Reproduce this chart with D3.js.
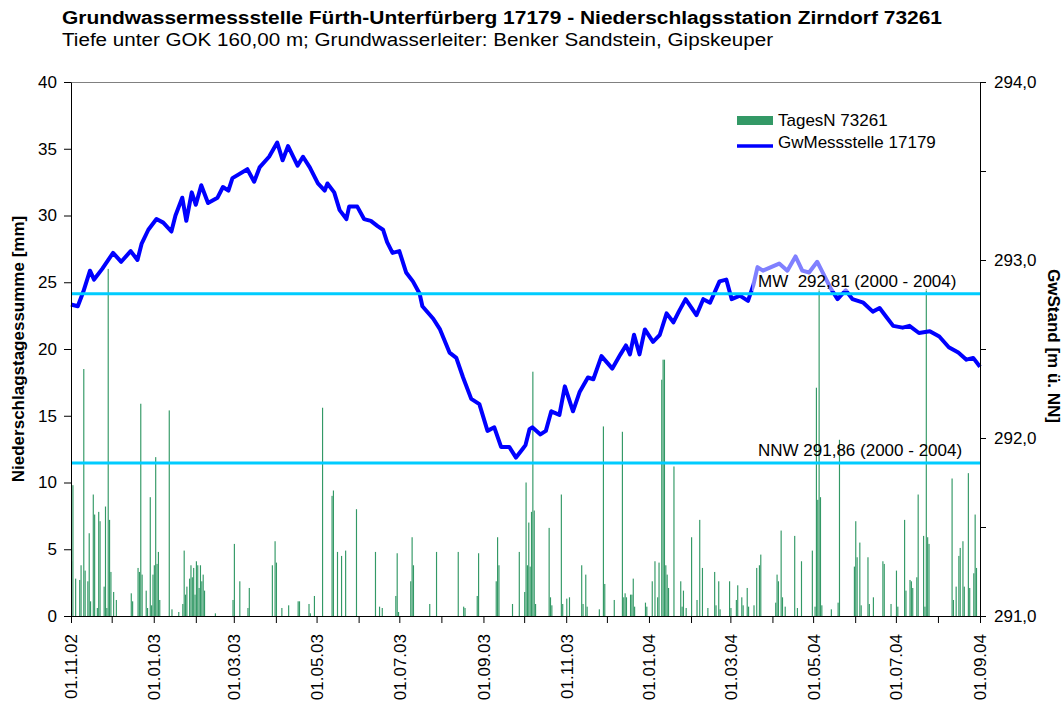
<!DOCTYPE html>
<html>
<head>
<meta charset="utf-8">
<script src="https://cdn.jsdelivr.net/npm/d3@7"></script>
<style>
  body { margin: 0; background: #fff; }
  text { font-family: "Liberation Sans", Arial, sans-serif; fill: #000; }
</style>
</head>
<body>
<svg id="chart"></svg>
<script>
// Setting chart size
const w = 1063;
const h = 702;

// ---- data ----
const titleText = "Grundwassermessstelle Fürth-Unterfürberg 17179 - Niederschlagsstation Zirndorf 73261";
const subtitleText = "Tiefe unter GOK 160,00 m; Grundwasserleiter: Benker Sandstein, Gipskeuper";
const seriesNames = ["TagesN 73261", "GwMessstelle 17179"];
const startDate = new Date(2002, 10, 1);   // 01.11.02
const endDate = new Date(2004, 8, 1);      // 01.09.04

// daily precipitation: days after 01.11.02 and mm
const rainDays = [0,1,3,6,7,9,10,12,13,14,16,17,19,20,21,24,25,26,27,28,29,31,33,44,45,49,50,51,52,55,56,58,59,60,61,62,63,64,65,72,74,79,82,83,84,85,87,88,89,90,91,92,93,94,95,96,97,98,106,119,120,124,130,131,148,150,151,155,160,167,168,175,176,179,185,192,193,196,199,202,210,224,227,229,239,240,241,250,251,252,264,269,285,289,290,299,300,313,314,315,325,330,334,335,336,337,338,339,340,341,342,352,353,354,361,362,365,367,376,377,379,380,389,392,393,400,406,407,408,409,412,413,414,415,423,424,428,430,432,433,435,436,437,438,439,440,444,449,450,451,453,457,461,463,465,469,474,475,477,478,485,486,490,491,494,495,498,499,503,505,507,508,519,520,521,523,524,526,533,535,538,546,548,549,550,551,552,553,560,565,566,577,578,579,581,582,587,588,591,598,599,604,608,609,614,615,618,619,620,623,624,628,629,630,631,632,649,650,652,654,655,657,658,661,662,665,666,667];
const rainMm = [4.1,9.8,2.8,2.7,3.8,18.5,3.4,2.6,6.2,1.1,9.1,7.6,0.6,7.8,7.1,2.2,8.2,0.6,26.0,7.2,3.3,1.8,1.2,1.7,1.1,3.6,3.3,15.9,3.1,1.9,0.6,8.9,0.8,3.1,3.8,11.9,3.9,4.8,1.2,15.4,0.5,0.3,0.9,4.9,1.6,2.2,2.8,3.8,2.9,3.6,1.6,4.1,3.8,2.1,3.8,2.6,3.1,1.9,0.2,1.2,5.4,2.6,0.6,2.1,3.8,5.6,4.0,0.6,0.8,1.1,1.1,0.9,0.2,1.5,15.6,9.0,9.4,4.8,4.5,4.9,8.0,4.8,0.7,0.6,1.5,4.7,0.3,2.6,5.9,3.8,0.9,4.8,4.8,0.7,0.6,1.5,4.7,2.6,5.9,3.8,0.9,4.8,1.8,10.0,3.8,7.0,3.7,7.8,18.3,7.9,0.9,6.6,1.4,0.8,9.1,0.9,1.3,1.4,3.8,0.9,3.1,0.7,0.5,14.2,2.4,1.2,13.8,1.4,1.7,1.4,1.6,1.6,2.8,0.7,1.0,0.7,2.6,4.1,1.4,4.0,17.7,19.2,19.2,3.8,3.1,2.1,11.2,2.6,0.7,1.9,0.6,5.9,1.2,7.2,3.6,0.6,3.3,0.8,2.6,0.5,2.6,0.6,1.2,2.3,1.4,0.8,2.1,0.7,0.8,3.6,3.8,4.6,1.0,3.1,2.6,6.4,1.4,0.7,6.0,0.6,4.1,4.9,0.7,17.1,8.7,24.5,8.9,0.8,0.5,1.0,13.2,3.7,7.1,4.4,5.5,0.8,4.4,0.9,1.4,4.1,3.9,0.9,3.4,0.7,7.2,1.9,2.7,2.6,2.1,2.9,9.1,6.0,0.7,24.5,5.9,5.4,10.3,1.2,2.2,4.5,5.1,5.6,2.2,10.7,2.1,3.2,7.6,3.6];

// groundwater level: days after 01.11.02 and m ü. NN
const gwDays = [0,5,9,14,17,23,31,37,44,49,52,57,63,68,74,77,82,85,89,92,96,101,108,112,116,119,130,135,139,146,152,156,160,167,171,176,182,187,189,194,198,203,205,211,216,221,226,230,233,237,242,247,252,257,259,267,272,279,284,289,295,301,307,312,317,323,328,333,335,338,340,346,350,354,360,364,370,375,381,385,391,399,405,409,412,415,419,423,429,434,439,444,448,453,461,466,471,478,483,487,493,499,503,506,510,516,522,528,534,539,544,550,554,560,565,571,576,584,591,596,601,606,613,618,625,633,640,647,654,660,665,670];
const gwLevel = [292.75,292.74,292.82,292.94,292.89,292.95,293.04,292.99,293.05,293.00,293.09,293.17,293.23,293.21,293.16,293.25,293.35,293.22,293.38,293.31,293.42,293.32,293.35,293.41,293.39,293.46,293.51,293.44,293.52,293.58,293.66,293.56,293.64,293.53,293.58,293.52,293.43,293.39,293.43,293.38,293.28,293.23,293.30,293.30,293.23,293.22,293.19,293.17,293.10,293.04,293.05,292.93,292.88,292.81,292.74,292.67,292.61,292.48,292.45,292.34,292.22,292.19,292.04,292.06,291.95,291.95,291.89,291.94,291.96,292.05,292.06,292.02,292.04,292.15,292.13,292.29,292.15,292.26,292.34,292.33,292.46,292.39,292.47,292.52,292.47,292.58,292.47,292.61,292.54,292.58,292.70,292.65,292.71,292.78,292.69,292.78,292.76,292.88,292.89,292.78,292.80,292.77,292.86,292.96,292.94,292.96,292.98,292.94,293.02,292.94,292.93,292.99,292.93,292.84,292.78,292.83,292.78,292.76,292.71,292.73,292.68,292.63,292.62,292.63,292.59,292.60,292.57,292.51,292.48,292.44,292.45,292.40];

// reference levels
const refValues = [292.81, 291.86];
const refLabels = ["MW  292,81 (2000 - 2004)", "NNW 291,86 (2000 - 2004)"];

const rainTicks = [0, 5, 10, 15, 20, 25, 30, 35, 40];
const gwTicks = [291, 291.5, 292, 292.5, 293, 293.5, 294];

// =========================
// LAYOUT
// =========================
const plot = { left: 71, right: 980, top: 82, bottom: 616 };
const fontSize = 17;
const green = "#339966";
const blue = "#0000ff";
const cyan = "#00ccff";

const svg = d3.select("#chart")
  .attr("width", w)
  .attr("height", h);

const x = d3.scaleTime()
  .domain([startDate, endDate])
  .range([plot.left, plot.right]);

const yRain = d3.scaleLinear()
  .domain([0, 40])
  .range([plot.bottom, plot.top]);

const yGw = d3.scaleLinear()
  .domain([291, 294])
  .range([plot.bottom, plot.top]);

const dayDate = d => d3.timeDay.offset(startDate, d);
const dayWidth = (plot.right - plot.left) / d3.timeDay.count(startDate, endDate);

// top border of plot area
svg.append("line")
  .attr("x1", plot.left).attr("x2", plot.right)
  .attr("y1", plot.top + 0.5).attr("y2", plot.top + 0.5)
  .attr("stroke", "#808080");

// =========================
// PRECIPITATION BARS
// =========================
const rain = rainDays.map((d, i) => ({ date: dayDate(d), mm: rainMm[i] }));

svg.append("g")
  .selectAll("rect")
  .data(rain)
  .join("rect")
  .attr("x", d => x(d.date))
  .attr("y", d => yRain(d.mm))
  .attr("width", dayWidth * 0.85)
  .attr("height", d => yRain(0) - yRain(d.mm))
  .attr("fill", green);

// =========================
// GROUNDWATER LINE
// =========================
const gw = gwDays.map((d, i) => ({ date: dayDate(d), level: gwLevel[i] }));

const line = d3.line()
  .x(d => x(d.date))
  .y(d => yGw(d.level));

svg.append("path")
  .datum(gw)
  .attr("d", line)
  .attr("fill", "none")
  .attr("stroke", blue)
  .attr("stroke-width", 4)
  .attr("stroke-linejoin", "round");

// reference lines
svg.append("g")
  .selectAll("line")
  .data(refValues)
  .join("line")
  .attr("x1", plot.left).attr("x2", plot.right)
  .attr("y1", d => yGw(d)).attr("y2", d => yGw(d))
  .attr("stroke", cyan)
  .attr("stroke-width", 3);

// label box of the MW line (semi transparent, line shows through)
svg.append("rect")
  .attr("x", 752).attr("y", 252)
  .attr("width", 210).attr("height", 39)
  .attr("fill", "#fff")
  .attr("fill-opacity", 0.5);

svg.append("g")
  .selectAll("text")
  .data(refValues)
  .join("text")
  .attr("x", 758)
  .attr("y", d => yGw(d) - 6.5)
  .attr("font-size", fontSize)
  .style("white-space", "pre")
  .text((d, i) => refLabels[i]);

// =========================
// AXES
// =========================
const fmtNum = d3.format(".1f");

const leftAxis = svg.append("g")
  .attr("transform", `translate(${plot.left},0)`)
  .call(d3.axisLeft(yRain).tickValues(rainTicks).tickSize(7).tickSizeOuter(0).tickPadding(7));

const rightAxis = svg.append("g")
  .attr("transform", `translate(${plot.right},0)`)
  .call(d3.axisRight(yGw).tickValues(gwTicks).tickSize(6).tickSizeOuter(0).tickPadding(8)
    .tickFormat(d => Number.isInteger(d) ? fmtNum(d).replace(".", ",") : ""));

const fmtDate = d3.timeFormat("%d.%m.%y");
const bottomAxis = svg.append("g")
  .attr("transform", `translate(0,${plot.bottom})`)
  .call(d3.axisBottom(x).ticks(d3.timeMonth.every(1)).tickSize(7).tickSizeOuter(0)
    .tickFormat(d => d.getMonth() % 2 === 0 ? fmtDate(d) : ""));

bottomAxis.selectAll("text")
  .attr("transform", "rotate(-90)")
  .attr("text-anchor", "end")
  .attr("x", -18)
  .attr("y", 0)
  .attr("dy", "0.35em");

[leftAxis, rightAxis, bottomAxis].forEach(g => {
  g.selectAll("text").attr("font-size", fontSize).attr("font-family", null).attr("fill", "#000");
  g.selectAll("path, line").attr("stroke", "#000");
});

// axis titles
svg.append("text")
  .attr("transform", "translate(24,349) rotate(-90)")
  .attr("text-anchor", "middle")
  .attr("font-size", fontSize)
  .attr("font-weight", "bold")
  .text("Niederschlagstagessumme [mm]");

svg.append("text")
  .attr("transform", "translate(1048,346) rotate(90)")
  .attr("text-anchor", "middle")
  .attr("font-size", fontSize)
  .attr("font-weight", "bold")
  .text("GwStand [m ü. NN]");

// =========================
// TITLES
// =========================
svg.append("text")
  .attr("x", 62).attr("y", 24)
  .attr("font-size", 18)
  .attr("font-weight", "bold")
  .attr("textLength", 880)
  .attr("lengthAdjust", "spacingAndGlyphs")
  .text(titleText);

svg.append("text")
  .attr("x", 62).attr("y", 46)
  .attr("font-size", 18)
  .attr("textLength", 711)
  .attr("lengthAdjust", "spacingAndGlyphs")
  .text(subtitleText);

// =========================
// LEGEND
// =========================
const legend = svg.append("g").attr("transform", "translate(737,0)");

legend.append("rect")
  .attr("x", 0).attr("y", 116)
  .attr("width", 36).attr("height", 9)
  .attr("fill", green);
legend.append("text")
  .attr("x", 41).attr("y", 126)
  .attr("font-size", fontSize)
  .text(seriesNames[0]);

legend.append("line")
  .attr("x1", 0).attr("x2", 36)
  .attr("y1", 146).attr("y2", 146)
  .attr("stroke", blue)
  .attr("stroke-width", 3.5);
legend.append("text")
  .attr("x", 41).attr("y", 148)
  .attr("font-size", fontSize)
  .text(seriesNames[1]);
</script>
</body>
</html>
